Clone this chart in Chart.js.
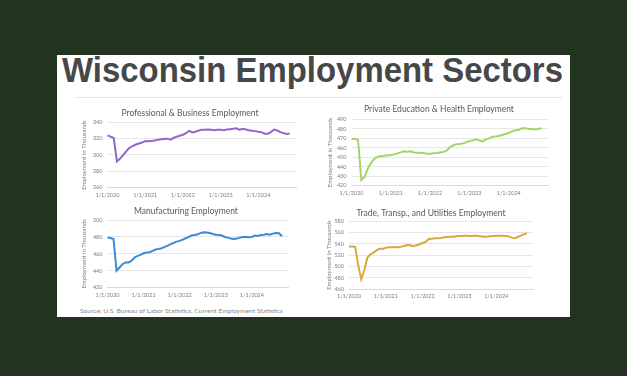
<!DOCTYPE html>
<html><head><meta charset="utf-8">
<script src="https://cdn.jsdelivr.net/npm/chart.js@4"></script>
<style>
html,body{margin:0;padding:0;background:#223420;width:627px;height:376px;overflow:hidden;}
#panel{position:absolute;left:57px;top:55px;width:513px;height:262px;background:#fff;}
#title{position:absolute;left:62px;top:52px;font:bold 35px "Liberation Sans",Arial,sans-serif;line-height:1;color:#474747;white-space:nowrap;transform-origin:0 0;}
#rule{position:absolute;left:75px;top:97px;width:487px;height:1px;background:#e4e4e4;}
#source{position:absolute;left:80px;top:307px;font:6px Lato,sans-serif;line-height:8px;color:#8a8a8a;white-space:nowrap;transform-origin:0 0;}
.wrap{position:absolute;}
</style></head><body>
<div id="panel"></div>
<div id="title">Wisconsin Employment Sectors</div>
<div id="rule"></div>
<div class="wrap" id="w1"><canvas id="c1"></canvas></div>
<div class="wrap" id="w2"><canvas id="c2"></canvas></div>
<div class="wrap" id="w3"><canvas id="c3"></canvas></div>
<div class="wrap" id="w4"><canvas id="c4"></canvas></div>
<div id="source">Source: U.S. Bureau of Labor Statistics, Current Employment Statistics</div>
<script>
// Categories: monthly, Jan 2020 .. Jan 2025
const months = [];
for (let y = 2020; y <= 2025; y++) for (let m = 1; m <= 12; m++) { if (y === 2025 && m > 1) break; months.push(m + '/1/' + y); }
const tickLabels = ['1/1/2020','1/1/2021','1/1/2022','1/1/2023','1/1/2024'];
const chartTitles = ['Professional & Business Employment','Private Education & Health Employment','Manufacturing Employment','Trade, Transp., and Utilities Employment'];
const yAxisTitle = 'Employment in Thousands';

const profBusiness = [324,322.4,320.8,292,295.6,300,304.8,308.8,310.8,312.8,314,315.2,
317.2,316.8,317.2,317.6,318.8,319.2,319.6,320,318.8,320.8,322.4,323.6,
324.8,326.8,329.6,327.6,328.4,330,330.8,330.8,331.2,330.8,330.4,330.8,
330.8,330.4,331.2,331.6,332,332.8,330.8,332,331.2,330.4,329.6,329.2,
328.4,328,326,326,328,331.2,330,328,326.8,325.6,326.4];
const eduHealth = [469.2,469.6,468.2,426,429.4,438.2,444.2,448.3,450.6,451.3,451.6,452,
452.3,453,454.1,455.1,456.2,455.8,456.2,455.1,454.8,454.8,454.4,453.7,
453.7,454.1,454.4,455.1,455.5,456.9,460.4,462.5,463.6,463.9,464.6,465.7,
467.1,467.8,468.9,467.8,466.8,468.5,469.9,471.7,472,472.4,473.5,474.5,
475.6,477.3,478.4,478.7,480.5,480.5,480.1,479.4,479.4,479.8,480.5];
const manufacturing = [479.2,478.8,477.6,440,443.9,447.8,449.8,449.8,451.8,455.7,457.6,458.8,
460.8,461.6,462,463.5,465.1,465.9,466.7,468.2,469.8,471.4,472.9,474.5,
475.3,476.9,478.4,480,481.6,482.4,483.1,484.7,485.5,485.1,484.7,483.5,
482.7,482.4,481.6,480,479.2,478,477.6,478,479.2,480,480,479.6,
480,481.6,481.2,482.4,482.7,483.5,482.7,483.9,484.7,484.3,480.8];
const tradeTransUtil = [535,535,534.4,502.8,477.7,494,515.7,521.5,524.4,528.5,531.5,530.9,
533.2,533.8,533.8,534.4,533.8,535,536.1,537.9,537.3,535.6,537.3,539.1,
541.4,543.2,548.4,549,549.6,549.6,550.2,551.3,551.9,552.5,552.5,553.1,
553.7,553.7,554.3,553.7,553.7,554.3,553.7,553.1,552.5,552.5,553.1,553.7,
554.3,554.3,554.3,553.7,553.1,550.8,549.6,551.9,554.3,556.6,558.4];

const TICK = '#7f7f7f';
function build(n, g, values, color, yMin, yMax, step, title) {
  const wrap = document.getElementById('w' + n);
  const height = Math.round(g.plotBottom - g.top + 12);
  wrap.style.left = g.left + 'px'; wrap.style.top = g.top + 'px';
  wrap.style.width = g.width + 'px'; wrap.style.height = height + 'px';
  const xH = height - (g.plotBottom - g.top);
  const tSize = 8.5, lh = tSize * 1.2;
  const padTop = g.titleCenter - g.top - lh / 2;
  const padBottom = g.plotTop - g.top - padTop - lh;
  new Chart(document.getElementById('c' + n), {
    type: 'line',
    data: { labels: months, datasets: [{ data: values, borderColor: color, borderWidth: 2, pointRadius: 0, tension: 0, fill: false }] },
    options: {
      responsive: true, maintainAspectRatio: false, animation: false,
      layout: { padding: 0 },
      plugins: {
        legend: { display: false }, tooltip: { enabled: false },
        title: { display: true, text: title, color: '#595959', font: { family: 'Lato', size: tSize, weight: 'normal' }, padding: { top: padTop, bottom: padBottom } }
      },
      scales: {
        x: {
          grid: { display: false, drawTicks: false },
          border: { display: true, color: '#d9d9d9' },
          ticks: { autoSkip: false, maxRotation: 0, minRotation: 0, padding: 4, color: TICK, font: { family: 'Lato', size: 5.5 },
            callback: (v, i) => tickLabels.includes(months[i]) ? months[i] : '' },
          afterFit: s => { s.height = xH; }
        },
        y: {
          min: yMin, max: yMax,
          ticks: { stepSize: step, autoSkip: false, padding: 5, color: TICK, font: { family: 'Lato', size: 5.5 } },
          grid: { color: '#e6e6e6', drawTicks: false },
          border: { display: false },
          title: { display: true, text: yAxisTitle, color: TICK, font: { family: 'Lato', size: 6 }, padding: 0 },
          afterFit: s => { s.width = g.plotLeft - g.left; }
        }
      }
    }
  });
}

build(1, { left: 80, top: 105, width: 220, plotLeft: 107.5, plotTop: 122.3, plotBottom: 187.7, titleCenter: 113 }, profBusiness, '#9565cc', 260, 340, 20, chartTitles[0]);
build(2, { left: 326, top: 101, width: 226, plotLeft: 351.5, plotTop: 119.3, plotBottom: 185.7, titleCenter: 109 }, eduHealth, '#a3d465', 420, 490, 10, chartTitles[1]);
build(3, { left: 80, top: 203, width: 212, plotLeft: 107.5, plotTop: 220, plotBottom: 287.7, titleCenter: 211 }, manufacturing, '#3a8ad6', 420, 500, 20, chartTitles[2]);
build(4, { left: 325, top: 205, width: 212, plotLeft: 349, plotTop: 221, plotBottom: 289.3, titleCenter: 213 }, tradeTransUtil, '#d6aa3e', 460, 580, 20, chartTitles[3]);

// fit title and source widths to the reference
function fitWidth(id, w) { const el = document.getElementById(id); const r = el.getBoundingClientRect().width; el.style.transform = 'scaleX(' + (w / r) + ')'; }
fitWidth('title', 501);
fitWidth('source', 203);
</script>
</body></html>
